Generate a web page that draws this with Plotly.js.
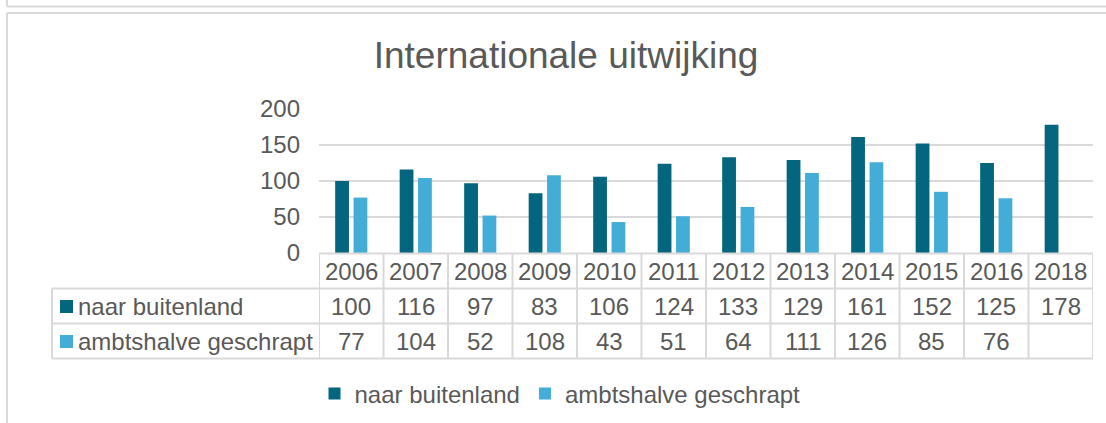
<!DOCTYPE html>
<html>
<head>
<meta charset="utf-8">
<script src="https://cdn.plot.ly/plotly-3.0.1.min.js"></script>
<style>
  html, body { margin: 0; padding: 0; background: #ffffff; }
  #chart { width: 1106px; height: 423px; }
</style>
</head>
<body>
<div id="chart"></div>
<script>
// ---- data ----
const years = ["2006","2007","2008","2009","2010","2011","2012","2013","2014","2015","2016","2018"];
const naarBuitenland = [100,116,97,83,106,124,133,129,161,152,125,178];
const ambtshalveGeschrapt = [77,104,52,108,43,51,64,111,126,85,76,null];
const seriesNames = ["naar buitenland","ambtshalve geschrapt"];
const yTicks = [0,50,100,150,200];

// ---- style / layout ----
const W = 1106, Hpx = 423;
const M = {l: 319, r: 13, t: 109, b: 170, autoexpand: false};
const plotW = W - M.l - M.r;      // 774
const plotH = Hpx - M.t - M.b;    // 144
const plotBottom = M.t + plotH;   // 253
const colors = ["#03657E", "#43ADD8"];
const textColor = "#595959";
const lineColor = "#D9D9D9";
const FONT = "Liberation Sans, Arial, sans-serif";

const px2x = px => (px - M.l) / plotW;
const py2y = py => (plotBottom - py) / plotH;

const rowH = 35;
const rowTop = [plotBottom + 0.5, plotBottom + 0.5 + rowH, plotBottom + 0.5 + 2*rowH, plotBottom + 0.5 + 3*rowH];
const labelColLeft = 52;

const shapes = [];
const annotations = [];
const line = {color: lineColor, width: 2};

// horizontal table lines
shapes.push({type:"line", xref:"paper", yref:"paper", x0:0, x1:1, y0:py2y(rowTop[0]), y1:py2y(rowTop[0]), line});
for (let r = 1; r <= 3; r++) {
  shapes.push({type:"line", xref:"paper", yref:"paper", x0:px2x(labelColLeft), x1:1,
               y0:py2y(rowTop[r]), y1:py2y(rowTop[r]), line});
}
// vertical table lines at category boundaries
for (let i = 0; i <= years.length; i++) {
  shapes.push({type:"line", xref:"x", yref:"paper", x0:i-0.5, x1:i-0.5,
               y0:py2y(rowTop[0]), y1:py2y(rowTop[3]), line});
}
// left border of label column
shapes.push({type:"line", xref:"paper", yref:"paper", x0:px2x(labelColLeft), x1:px2x(labelColLeft),
             y0:py2y(rowTop[1]), y1:py2y(rowTop[3]), line});

// outer chart frames
shapes.push({type:"line", xref:"paper", yref:"paper", x0:px2x(7), x1:px2x(1106), y0:py2y(6.5), y1:py2y(6.5), line});
shapes.push({type:"line", xref:"paper", yref:"paper", x0:px2x(7), x1:px2x(7), y0:py2y(0), y1:py2y(6.5), line});
shapes.push({type:"line", xref:"paper", yref:"paper", x0:px2x(7), x1:px2x(1106), y0:py2y(13), y1:py2y(13), line});
shapes.push({type:"line", xref:"paper", yref:"paper", x0:px2x(7), x1:px2x(7), y0:py2y(13), y1:py2y(423), line});

const cellFont = {family: FONT, size: 24, color: textColor};
// header row (years)
years.forEach((y, i) => {
  annotations.push({xref:"x", yref:"paper", x:i, y:py2y(rowTop[0] + rowH/2),
    text:y, showarrow:false, xanchor:"center", yanchor:"middle", font:cellFont});
});
// data rows
[naarBuitenland, ambtshalveGeschrapt].forEach((vals, r) => {
  const yc = py2y(rowTop[r+1] + rowH/2);
  vals.forEach((v, i) => {
    if (v === null) return;
    annotations.push({xref:"x", yref:"paper", x:i, y:yc,
      text:String(v), showarrow:false, xanchor:"center", yanchor:"middle", font:cellFont});
  });
  // legend key + name
  shapes.push({type:"rect", xref:"paper", yref:"paper",
    x0:px2x(60), x1:px2x(73), y0:py2y(rowTop[r+1] + rowH/2 - 6), y1:py2y(rowTop[r+1] + rowH/2 + 7),
    fillcolor:colors[r], line:{width:0}});
  annotations.push({xref:"paper", yref:"paper", x:px2x(76), y:yc,
    text:seriesNames[r], showarrow:false, xanchor:"left", yanchor:"middle", font:cellFont});
});

const traces = [naarBuitenland, ambtshalveGeschrapt].map((vals, i) => ({
  type: "bar",
  name: seriesNames[i],
  x: years,
  y: vals,
  marker: {color: colors[i], line: {width: 0}},
  hoverinfo: "x+y+name"
}));

const layout = {
  width: W, height: Hpx,
  margin: M,
  paper_bgcolor: "#ffffff",
  plot_bgcolor: "#ffffff",
  font: {family: FONT, size: 24, color: textColor},
  title: {
    text: "Internationale uitwijking",
    font: {family: FONT, size: 37, color: textColor},
    x: 566 / W, xanchor: "center", xref: "container",
    y: 1 - 55 / Hpx, yanchor: "middle", yref: "container"
  },
  barmode: "group",
  bargap: 0.43,
  bargroupgap: 0.25,
  xaxis: {
    type: "category",
    range: [-0.5, years.length - 0.5],
    autorange: false,
    showticklabels: false,
    showgrid: false,
    zeroline: false,
    showline: false,
    ticks: ""
  },
  yaxis: {
    range: [0, 200],
    autorange: false,
    tickvals: yTicks,
    ticktext: yTicks.map(String),
    showgrid: true,
    gridcolor: lineColor,
    gridwidth: 2,
    zeroline: false,
    showline: false,
    ticks: "",
    ticklabelstandoff: 18,
    tickfont: {family: FONT, size: 24, color: textColor}
  },
  showlegend: true,
  legend: {
    orientation: "h",
    x: px2x(560), xanchor: "center",
    y: py2y(394), yanchor: "middle",
    font: {family: FONT, size: 24, color: textColor},
    itemwidth: 30,
    traceorder: "normal",
    bgcolor: "rgba(0,0,0,0)"
  },
  shapes: shapes,
  annotations: annotations
};

Plotly.newPlot("chart", traces, layout, {displayModeBar: false, staticPlot: true});
</script>
</body>
</html>
